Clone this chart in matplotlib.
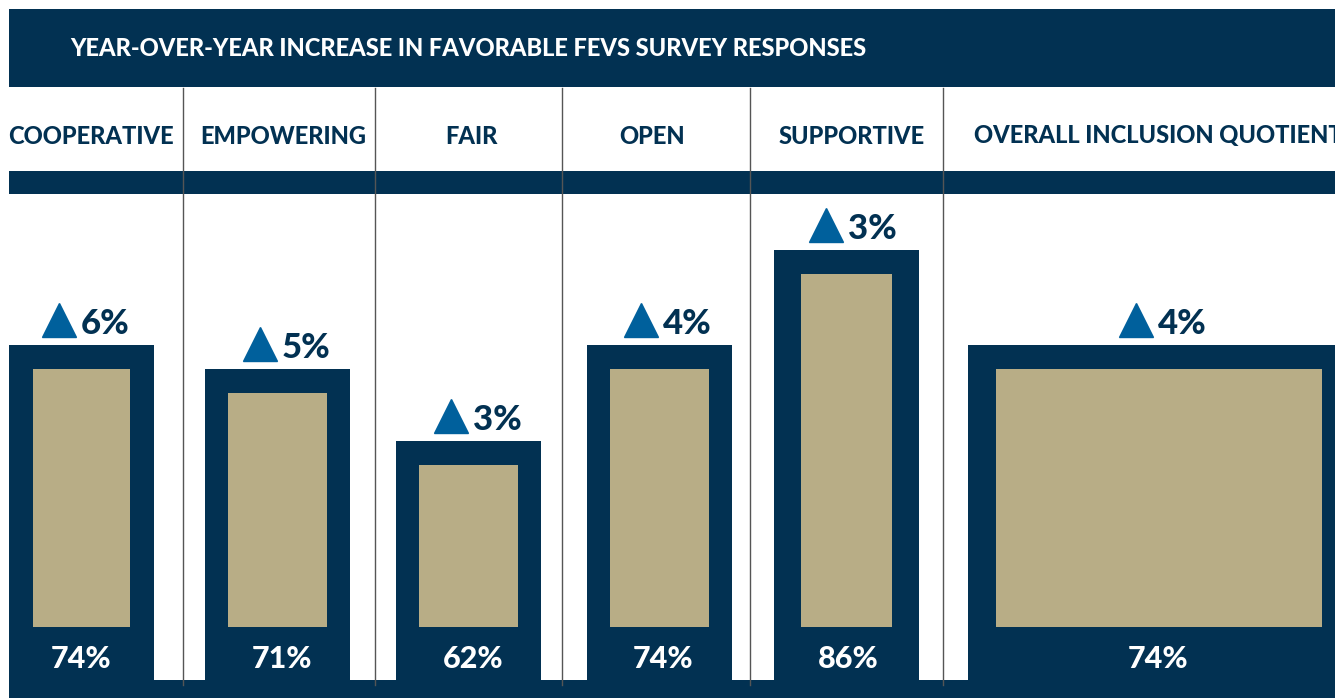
import matplotlib
matplotlib.use("Agg")
import matplotlib.pyplot as plt
import matplotlib.transforms as mtransforms
from matplotlib.patches import Rectangle

# --- Data ---
categories = ["COOPERATIVE", "EMPOWERING", "FAIR", "OPEN", "SUPPORTIVE",
              "OVERALL INCLUSION QUOTIENT"]
favorable = [74, 71, 62, 74, 86, 74]      # % favorable
increase = [6, 5, 3, 4, 3, 4]             # year-over-year change, points
title = "YEAR-OVER-YEAR INCREASE IN FAVORABLE FEVS SURVEY RESPONSES"

# --- Style / layout (pixel units, figure is 1335 x 698) ---
NAVY = "#023152"
TAN = "#b8ad86"
BLUE = "#00609c"
RULE = "#555555"
FONT = "Lato"
WEIGHT = "black"

W, H = 1335, 698
bar_edges = [(9, 154), (205, 350), (396, 541), (587, 732), (774, 919), (968, 1350)]
inner_pad = [24, 23, 23, 23, 27, 28]
separators = [183, 375, 562, 750, 943]
header_x = [91, 283, 471, 652, 852, 1158]
y_base, y_top = 32, 93          # value range of the bar axes
bars_top_px, bars_bottom_px = 194, 680

fig = plt.figure(figsize=(W / 100, H / 100), dpi=100)

# decoration layer in pixel coordinates
deco = fig.add_axes([0, 0, 1, 1])
deco.set_xlim(0, W)
deco.set_ylim(H, 0)
deco.axis("off")

deco.add_patch(Rectangle((9, 9), W, 78, color=NAVY, lw=0))
deco.add_patch(Rectangle((9, 171), W, 23, color=NAVY, lw=0))
deco.add_patch(Rectangle((9, 680), W, 20, color=NAVY, lw=0))
for x in separators:
    deco.plot([x, x], [88, 685], color=RULE, lw=1.0, zorder=3)

deco.text(70, 49, title, color="white", fontsize=17, fontweight=WEIGHT,
          family=FONT, ha="left", va="center")
for x, name in zip(header_x, categories):
    deco.text(x, 136, name, color=NAVY, fontsize=17, fontweight=WEIGHT,
              family=FONT, ha="center", va="center")

# bar layer: y in percent
ax = fig.add_axes([0, (H - bars_bottom_px) / H, 1,
                   (bars_bottom_px - bars_top_px) / H])
ax.set_xlim(0, W)
ax.set_ylim(y_base, y_top)
ax.axis("off")
ax.patch.set_alpha(0)

px_per_unit = (bars_bottom_px - bars_top_px) / (y_top - y_base)
top_inset = 24 / px_per_unit
bottom_inset = 53 / px_per_unit

centers = [(a + b) / 2 for a, b in bar_edges]
widths = [b - a for a, b in bar_edges]
heights = [v - y_base for v in favorable]

ax.bar(centers, heights, bottom=y_base, width=widths, color=NAVY, lw=0)
ax.bar(centers, [h - top_inset - bottom_inset for h in heights],
       bottom=y_base + bottom_inset,
       width=[w - 2 * p for w, p in zip(widths, inner_pad)],
       color=TAN, lw=0)

label_x = [81, 282, 473, 663, 848, 1158]
for i, (v, d) in enumerate(zip(favorable, increase)):
    # value inside the navy foot of the bar
    ax.text(label_x[i], y_base + 21 / px_per_unit, f"{v}%", color="white",
            fontsize=22, fontweight=WEIGHT, family=FONT,
            ha="center", va="center")
    # triangle + increase above the bar
    tri = mtransforms.offset_copy(ax.transData, fig, x=-24, y=25, units="dots")
    ax.plot([label_x[i] + 2], [v], marker="^", markersize=24, color=BLUE,
            transform=tri, clip_on=False)
    txt = mtransforms.offset_copy(ax.transData, fig, x=-2, y=11, units="dots")
    ax.text(label_x[i] + 2, v, f"{d}%", color=NAVY, fontsize=25,
            fontweight=WEIGHT, family=FONT, ha="left", va="baseline",
            transform=txt, clip_on=False)

fig.savefig("out.png", dpi=100)
